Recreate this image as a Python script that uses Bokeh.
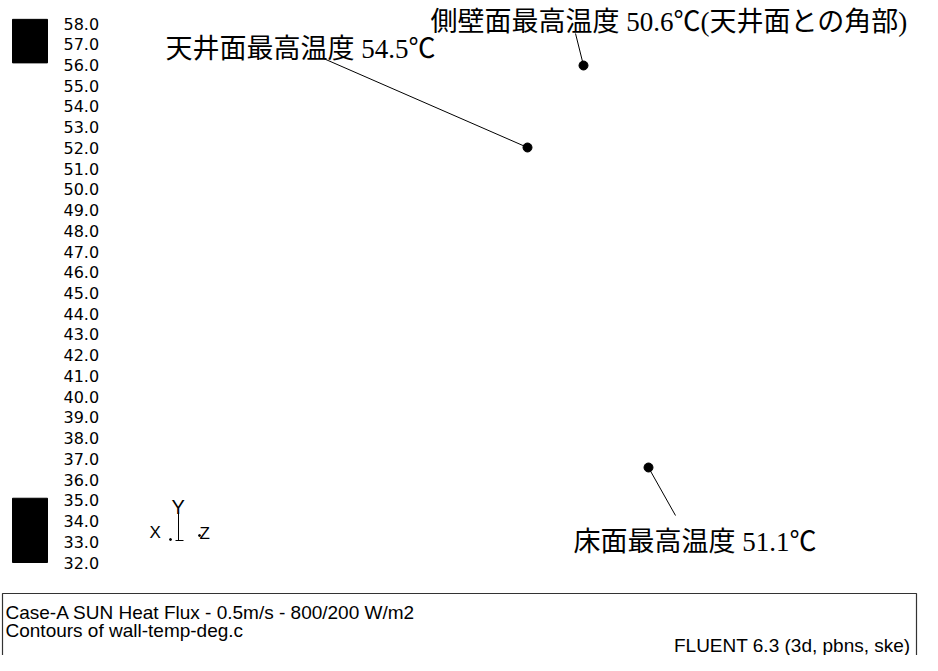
from bokeh.plotting import figure
from bokeh.models import Range1d, ColumnDataSource
from bokeh.core.properties import value
from bokeh.embed import file_html
from bokeh.resources import INLINE

# ---- data ----
levels = [58.0, 57.0, 56.0, 55.0, 54.0, 53.0, 52.0, 51.0, 50.0, 49.0, 48.0, 47.0, 46.0,
          45.0, 44.0, 43.0, 42.0, 41.0, 40.0, 39.0, 38.0, 37.0, 36.0, 35.0, 34.0, 33.0, 32.0]
level_labels = [f"{v:.1f}" for v in levels]
band_bottom = [56.1, 32.0]
band_top = [58.2, 35.1]

ann_text = ["天井面最高温度 54.5℃",
            "側壁面最高温度 50.6℃(天井面との角部)",
            "床面最高温度 51.1℃"]
ann_x = [165, 430, 573]
ann_y = [48, 21, 541]
lead_x0 = [323, 575, 675]
lead_y0 = [58, 33, 515]
pt_x = [527, 583, 648]
pt_y = [147, 65, 467]

triad_labels = ["X", "Y", "Z"]
triad_x = [149, 171, 199]
triad_y = [532, 506, 533]
triad_size = ["17px", "20px", "17px"]

info_lines = ["Case-A SUN Heat Flux - 0.5m/s - 800/200 W/m2", "Contours of wall-temp-deg.c"]
info_x = [5, 5]
info_y = [612, 630]
version_text = ["FLUENT 6.3 (3d, pbns, ske)"]
version_x = [910]
version_y = [645]
box_left, box_right, box_top, box_bottom = [2], [916], [593], [700]

# ---- figure ----
W, H = 922, 655
p = figure(width=W, height=H, x_range=Range1d(0, W), y_range=Range1d(H, 0),
           output_backend="svg", toolbar_location=None, min_border=0,
           x_axis_location=None, y_axis_location=None)
p.grid.visible = False
p.outline_line_color = None
p.background_fill_color = "white"
p.border_fill_color = "white"
# temperature scale of the colour bar: 58 at y=23 px, 32 at y=562 px
px_per_deg = (562 - 23) / 26.0
p.extra_y_ranges = {"temp": Range1d(58 - (H - 23) / px_per_deg, 58 + 23 / px_per_deg)}

# colorbar bands and labels
p.quad(left=[12, 12], right=[47, 47], bottom=band_bottom, top=band_top,
       fill_color="black", line_color="black", y_range_name="temp")
p.text(x=[63] * len(levels), y=levels, text=level_labels, y_range_name="temp",
       text_font=value("DejaVu Sans"), text_font_size="16px",
       text_baseline="middle", text_align="left", text_color="black")

# annotations
cjk_font = value("'Liberation Serif', 'Noto Sans CJK JP'")
p.segment(x0=lead_x0, y0=lead_y0, x1=pt_x, y1=pt_y, line_color="black", line_width=1)
p.scatter(x=pt_x, y=pt_y, size=9, fill_color="black", line_color="black")
p.text(x=ann_x, y=ann_y, text=ann_text, text_font=cjk_font, text_font_size="27px",
       text_baseline="middle", text_align="left", text_color="black")

# axis triad
tsrc = ColumnDataSource(dict(x=triad_x, y=triad_y, t=triad_labels, s=triad_size))
p.text(x="x", y="y", text="t", text_font_size="s", source=tsrc,
       text_font=value("Liberation Sans"), text_baseline="middle", text_align="left",
       text_color="black")
p.segment(x0=[178, 175], y0=[512, 540], x1=[178, 183], y1=[540, 540],
          line_color="black", line_width=1)
p.scatter(x=[170, 199], y=[539, 535], size=2, fill_color="black", line_color="black")

# info box
p.quad(left=box_left, right=box_right, top=box_top, bottom=box_bottom,
       fill_color=None, line_color="#333333", line_width=1.2)
p.text(x=info_x, y=info_y, text=info_lines, text_font=value("Liberation Sans"),
       text_font_size="19px", text_baseline="middle", text_align="left", text_color="black")
p.text(x=version_x, y=version_y, text=version_text, text_font=value("Liberation Sans"),
       text_font_size="19px", text_baseline="middle", text_align="right", text_color="black")

open("out.html", "w").write(file_html(p, INLINE))
